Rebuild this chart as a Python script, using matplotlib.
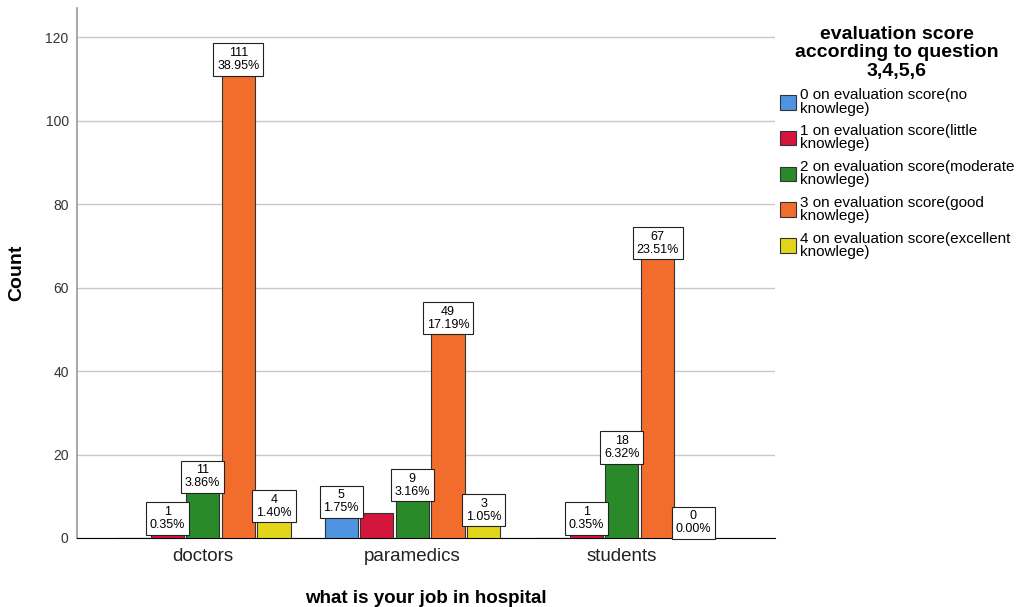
import numpy as np
import matplotlib.pyplot as plt

plt.rcParams['font.family'] = ['Liberation Sans', 'DejaVu Sans']

jobs = ['doctors', 'paramedics', 'students']
series = ['0 on evaluation score(no\nknowlege)',
          '1 on evaluation score(little\nknowlege)',
          '2 on evaluation score(moderate\nknowlege)',
          '3 on evaluation score(good\nknowlege)',
          '4 on evaluation score(excellent\nknowlege)']
counts = [[0, 1, 11, 111, 4],
          [5, 6, 9, 49, 3],
          [0, 1, 18, 67, 0]]
percents = [[None, '0.35%', '3.86%', '38.95%', '1.40%'],
            ['1.75%', None, '3.16%', '17.19%', '1.05%'],
            [None, '0.35%', '6.32%', '23.51%', '0.00%']]
colors = ['#4f94e0', '#d4163c', '#2a8a2a', '#f26d2b', '#e3d51a']

fig = plt.figure(figsize=(10.21, 6.07), dpi=100)
ax = fig.add_axes([0.0754, 0.1137, 0.6836, 0.8733])

x = np.arange(len(jobs))
pitch = 0.17
width = 0.158
for j in range(len(series)):
    vals = [counts[i][j] for i in range(len(jobs))]
    pos = x + (j - 2) * pitch
    ax.bar(pos, vals, width, color=colors[j], edgecolor='#333333', linewidth=0.8,
           label=series[j], zorder=3)
    for i in range(len(jobs)):
        p = percents[i][j]
        if p is None:
            continue
        ax.annotate('%d\n%s' % (counts[i][j], p), (pos[i], vals[i]),
                    xytext=(0, 2), textcoords='offset points',
                    ha='center', va='bottom', fontsize=9, linespacing=1.1,
                    bbox=dict(boxstyle='square,pad=0.3', fc='white', ec='#222222', lw=0.8),
                    zorder=5)

ax.set_xlim(-0.6, 2.73)
ax.set_ylim(0, 127)
ax.set_yticks(range(0, 121, 20))
ax.set_xticks(x)
ax.set_xticklabels(jobs, fontsize=13.5, color='#222222')
ax.tick_params(axis='y', labelsize=10, colors='#333333', length=0, pad=6)
ax.tick_params(axis='x', length=0, pad=7)
ax.yaxis.grid(True, color='#c8c8c8', linewidth=1, zorder=0)
ax.set_axisbelow(True)
for s in ['top', 'right']:
    ax.spines[s].set_visible(False)
ax.spines['left'].set_color('#999999')
ax.spines['left'].set_linewidth(1.2)
ax.spines['bottom'].set_color('black')

ax.set_ylabel('Count', fontsize=14, fontweight='bold')
ax.yaxis.set_label_coords(-0.074, 0.5)
ax.set_xlabel('what is your job in hospital', fontsize=13.5, fontweight='bold', labelpad=18)

leg = ax.legend(loc='upper left', bbox_to_anchor=(0.998, 0.978), frameon=False,
                title='evaluation score\naccording to question\n3,4,5,6',
                title_fontproperties={'weight': 'bold', 'size': 14},
                fontsize=11, handlelength=1.1, handleheight=1.1, handletextpad=0.2,
                labelspacing=0.55, borderaxespad=0.0)
leg._legend_box.align = 'center'
leg.get_title().set_multialignment('center')
leg.get_title().set_linespacing(1.12)
for t in leg.get_texts():
    t.set_linespacing(0.95)
for h in leg.legend_handles:
    h.set_edgecolor('#333333')

fig.savefig('out.png', dpi=100)
